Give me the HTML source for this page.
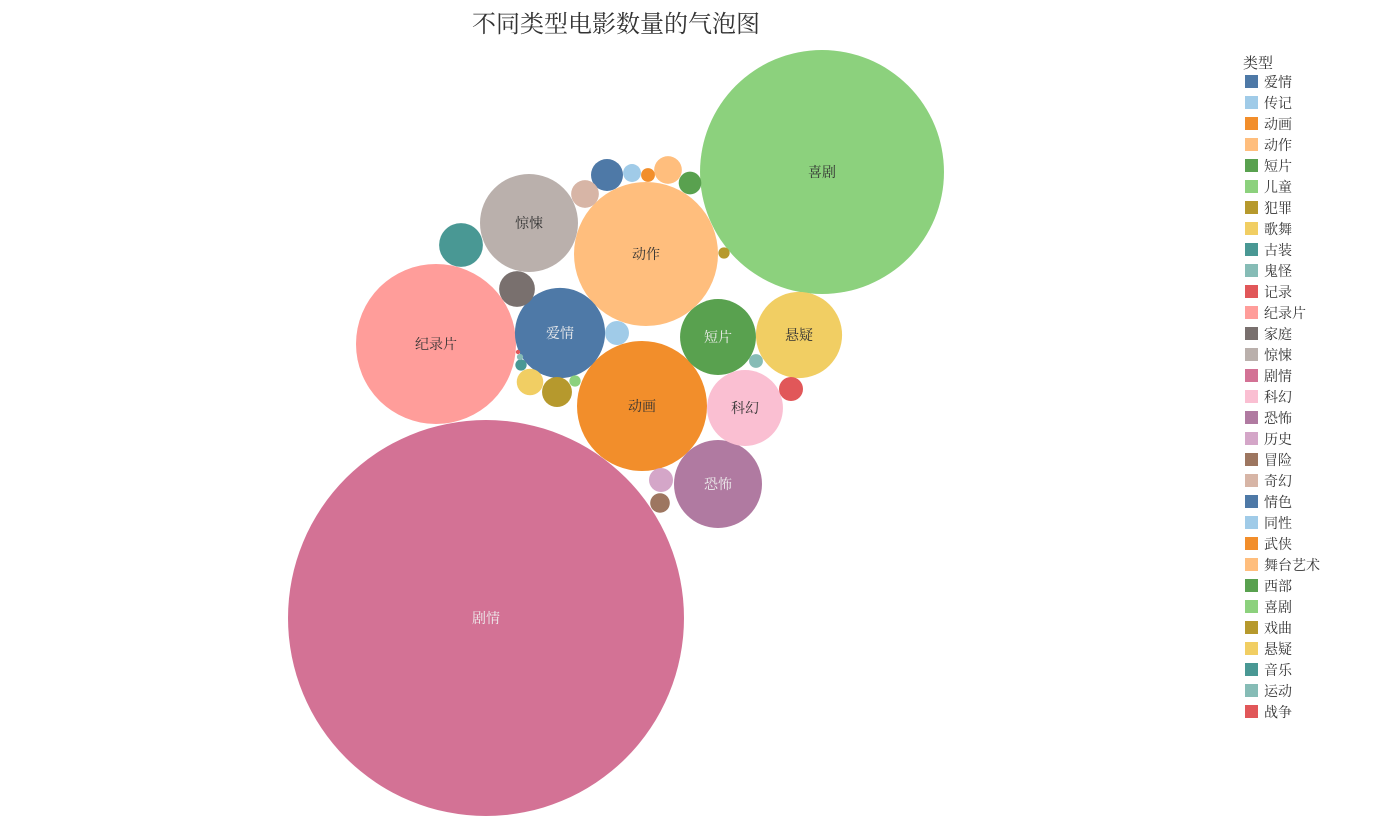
<!DOCTYPE html>
<html><head><meta charset="utf-8">
<style>
body{margin:0;background:#fff;}
svg{display:block;font-family:"Liberation Serif","Noto Serif CJK SC","Noto Sans CJK SC",serif;}
</style></head>
<body>
<svg id="chart" width="1382" height="817">
<text x="616" y="32" text-anchor="middle" font-size="24" fill="#333">不同类型电影数量的气泡图</text>
<g id="bubbles"></g>
<g id="legend">
<text x="1243" y="68" font-size="15" fill="#333">类型</text>
</g>
</svg>
<script>
const legendCats=["爱情","传记","动画","动作","短片","儿童","犯罪","歌舞","古装","鬼怪","记录","纪录片","家庭","惊悚","剧情","科幻","恐怖","历史","冒险","奇幻","情色","同性","武侠","舞台艺术","西部","喜剧","戏曲","悬疑","音乐","运动","战争"];
const palette=["#4e79a7","#a0cbe8","#f28e2b","#ffbe7d","#59a14f","#8cd17d","#b6992d","#f1ce63","#499894","#86bcb6","#e15759","#ff9d9a","#79706e","#bab0ac","#d37295","#fabfd2","#b07aa1","#d4a6c8","#9d7660","#d7b5a6"];
const categories=["喜剧","剧情","动作","纪录片","动画","惊悚","爱情","恐怖","悬疑","科幻","短片","古装","家庭","情色","西部","舞台艺术","奇幻","同性","武侠","戏曲","传记","运动","战争","犯罪","歌舞","儿童","音乐","历史","冒险","记录","鬼怪"];
const counts=[930,2450,324,400,264,150,127,121,116,90,90,30,20,16,8,12,12,5,3,2,9,3,9,14,11,2,2,9,6,0.3,0.6];
const centerX=[822,486,646,436,642,529,560,718,799,745,718,461,517,607,690,668,585,632,648,724,617,756,791,557,530,575,521,661,660,518,520];
const centerY=[172,618,254,344,406,223,333,484,335,408,337,245,289,175,183,170,194,173,175,253,333,361,389,392,382,381,365,480,503,352,357];
const darkLabel=["爱情","剧情","恐怖","短片"];
const NS="http://www.w3.org/2000/svg";
function rScale(v){return Math.sqrt(v)*4;}
function colorOf(c){return palette[legendCats.indexOf(c)%palette.length];}
const bg=document.getElementById('bubbles');
categories.forEach((c,i)=>{
  const r=rScale(counts[i]);
  const ci=document.createElementNS(NS,'circle');
  ci.setAttribute('cx',centerX[i]);ci.setAttribute('cy',centerY[i]);ci.setAttribute('r',r);
  ci.setAttribute('fill',colorOf(c));
  
  
  bg.appendChild(ci);
  if(r>34){
    const t=document.createElementNS(NS,'text');
    t.setAttribute('x',centerX[i]);t.setAttribute('y',centerY[i]+5);
    t.setAttribute('text-anchor','middle');t.setAttribute('font-size','14');
    t.setAttribute('fill',darkLabel.includes(c)?'#eee':'#333');
    t.textContent=c;
    
    
    bg.appendChild(t);
  }
});
const lg=document.getElementById('legend');
legendCats.forEach((c,i)=>{
  const y=75+i*21;
  const rc=document.createElementNS(NS,'rect');
  rc.setAttribute('x',1245);rc.setAttribute('y',y);rc.setAttribute('width',13);rc.setAttribute('height',13);
  rc.setAttribute('fill',colorOf(c));
  
  
  lg.appendChild(rc);
  const t=document.createElementNS(NS,'text');
  t.setAttribute('x',1264);t.setAttribute('y',y+12);t.setAttribute('font-size','14');t.setAttribute('fill','#333');
  t.textContent=c;
  
  
  lg.appendChild(t);
});
</script>
</body></html>
